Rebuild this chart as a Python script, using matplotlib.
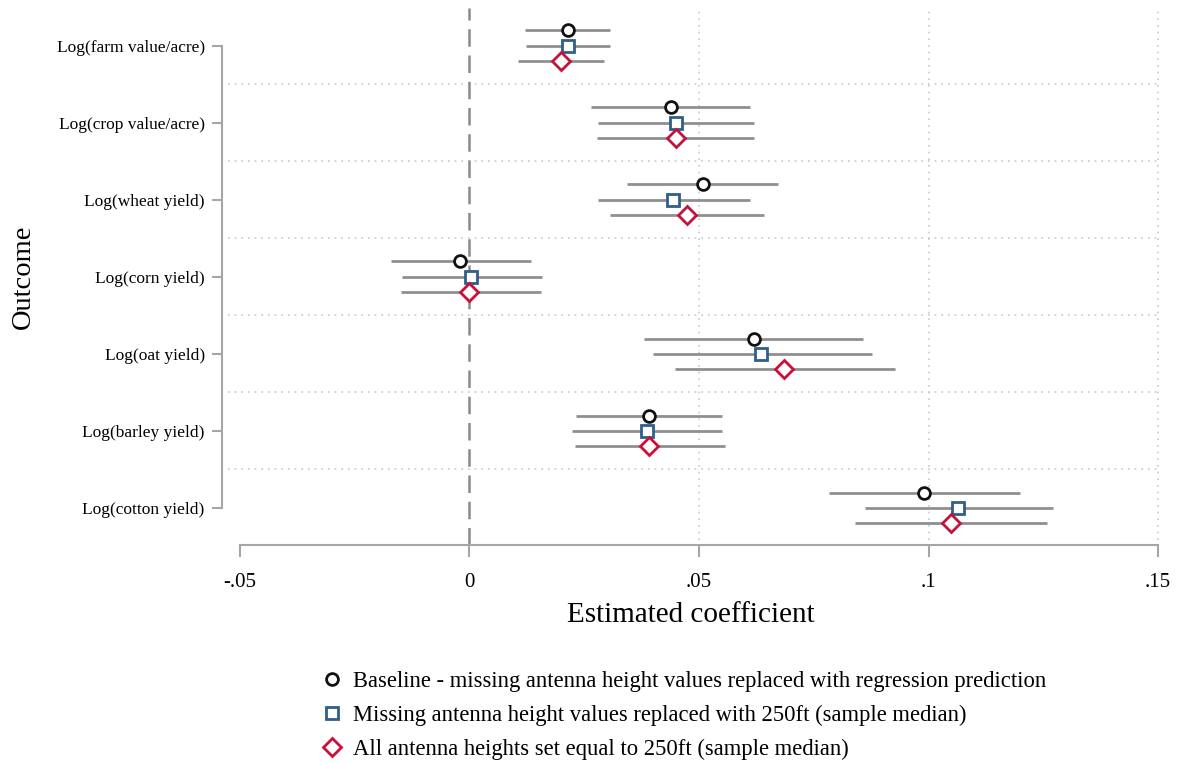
import matplotlib
matplotlib.use("Agg")
import matplotlib.pyplot as plt
from matplotlib.lines import Line2D
import numpy as np

plt.rcParams['font.family'] = ['Liberation Serif', 'DejaVu Serif']

outcomes = ["Log(farm value/acre)", "Log(crop value/acre)", "Log(wheat yield)",
            "Log(corn yield)", "Log(oat yield)", "Log(barley yield)", "Log(cotton yield)"]

base_est = [0.0214, 0.0438, 0.0508, -0.0020, 0.0619, 0.0390, 0.0991]
base_lo = [0.0120, 0.0264, 0.0344, -0.0172, 0.0381, 0.0231, 0.0782]
base_hi = [0.0307, 0.0612, 0.0673, 0.0135, 0.0858, 0.0551, 0.1200]

med_est = [0.0214, 0.0449, 0.0444, 0.0004, 0.0636, 0.0386, 0.1065]
med_lo = [0.0124, 0.0279, 0.0279, -0.0146, 0.0399, 0.0224, 0.0861]
med_hi = [0.0307, 0.0619, 0.0612, 0.0157, 0.0876, 0.0549, 0.1272]

all_est = [0.0200, 0.0449, 0.0473, 0.0000, 0.0684, 0.0392, 0.1048]
all_lo = [0.0105, 0.0277, 0.0305, -0.0150, 0.0447, 0.0229, 0.0839]
all_hi = [0.0294, 0.0619, 0.0641, 0.0155, 0.0926, 0.0556, 0.1257]

labels = ["Baseline - missing antenna height values replaced with regression prediction",
          "Missing antenna height values replaced with 250ft (sample median)",
          "All antenna heights set equal to 250ft (sample median)"]

xticks = [-0.05, 0, 0.05, 0.1, 0.15]
xticklabels = ["-.05", "0", ".05", ".1", ".15"]

W, H = 1179, 763
fig = plt.figure(figsize=(W / 100, H / 100), dpi=100)
ax = fig.add_axes([222 / W, 1 - 545 / H, (1160 - 222) / W, (545 - 8) / H])

ypos = np.arange(len(outcomes))
gray = "#8f8f8f"
spine_gray = "#a6a6a6"

series = [
    (base_est, base_lo, base_hi, -0.2, "o", "#111111", 8.5),
    (med_est, med_lo, med_hi, 0.0, "s", "#2f5f8a", 8.5),
    (all_est, all_lo, all_hi, 0.2, "D", "#c8103a", 9.5),
]

# grid
for yg in np.arange(0.5, len(outcomes) - 0.5, 1.0):
    ax.axhline(yg, xmin=0.006, xmax=1, color="#c8c8c8", lw=1.2, ls=(0, (1, 3)), zorder=0)
for xg in [0.05, 0.1, 0.15]:
    ax.axvline(xg, ymin=0.01, ymax=1, color="#c8c8c8", lw=1.2, ls=(0, (1, 3)), zorder=0)
ax.axvline(0, color="#8a8a8a", lw=1.8, ls=(0, (7, 3.5)), zorder=1)

handles = []
for (est, lo, hi, off, mk, col, ms), lab in zip(series, labels):
    est = np.array(est); lo = np.array(lo); hi = np.array(hi)
    ax.hlines(ypos + off, lo, hi, color=gray, lw=2, zorder=2)
    ax.plot(est, ypos + off, ls="none", marker=mk, ms=ms, mfc="white", mec=col, mew=2, zorder=3)
    handles.append(Line2D([], [], ls="none", marker=mk, ms=ms, mfc="white", mec=col, mew=2, label=lab))

ax.set_xlim(-0.0539, 0.1504)
ax.set_ylim(6.48, -0.49)

ax.set_yticks(ypos)
ax.set_yticklabels(outcomes, fontsize=12.5)
ax.set_xticks(xticks)
ax.set_xticklabels(xticklabels, fontsize=15)

for s in ["top", "right"]:
    ax.spines[s].set_visible(False)
ax.spines["left"].set_bounds(0, 6)
ax.spines["bottom"].set_bounds(-0.05, 0.15)
for s in ["left", "bottom"]:
    ax.spines[s].set_color(spine_gray)
    ax.spines[s].set_linewidth(1.5)
ax.tick_params(axis="y", length=7, width=1.5, color=spine_gray, pad=5.5)
ax.tick_params(axis="x", length=8.6, width=1.5, color=spine_gray, pad=11.5)

ax.set_xlabel("Estimated coefficient", fontsize=21, labelpad=7.5)
ax.set_ylabel("Outcome", fontsize=20.5, labelpad=14.5)

fig.legend(handles=handles, loc="upper left", bbox_to_anchor=(312 / W, 1 - 662 / H),
           frameon=False, fontsize=16.3, handletextpad=0.4, labelspacing=0.56,
           handlelength=1.0, borderaxespad=0)

fig.savefig("out.png", dpi=100)
